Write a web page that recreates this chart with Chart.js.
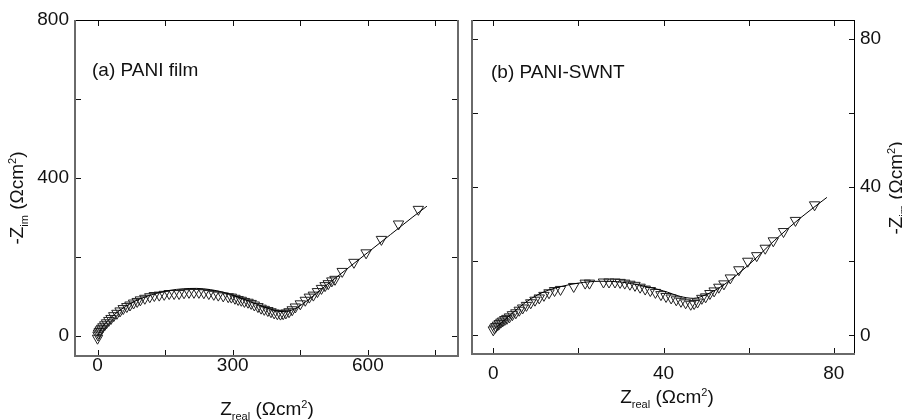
<!DOCTYPE html>
<html>
<head>
<meta charset="utf-8">
<script src="https://cdn.jsdelivr.net/npm/chart.js@4/dist/chart.umd.min.js"></script>
<style>
body { margin: 0; background: #fff; }
#wrap { position: relative; width: 902px; height: 420px; overflow: hidden; }
canvas { position: absolute; top: 0; }
#ca { left: 0; }
#cb { left: 465px; }
</style>
</head>
<body>
<div id="wrap">
<canvas id="ca" width="465" height="420"></canvas>
<canvas id="cb" width="437" height="420"></canvas>
</div>
<script>
// (a) PANI film - measured points
var aZr = [0, 1, 2, 4, 6, 9, 12, 16, 20, 25, 30, 36, 43, 50, 57, 65, 72, 80, 88, 95, 105, 116, 126, 137, 148, 159, 170, 181, 192, 203, 214, 225, 236, 247, 258, 268, 279, 290, 297, 305, 312, 319, 326, 334, 341, 348, 356, 363, 370, 378, 385, 392, 399, 406, 412, 418, 425, 432, 439, 450, 461, 470, 479, 488, 497, 505, 512, 520, 527, 543, 569, 596, 630, 668, 712];
var aZim = [-5, 3, 8, 12, 16, 20, 24, 29, 34, 40, 45, 52, 58, 64, 70, 75, 79, 84, 88, 92, 96, 100, 103, 104, 106, 108, 108, 108, 110, 111, 111, 111, 110, 108, 106, 104, 102, 100, 99, 96, 93, 91, 88, 86, 83, 79, 75, 71, 68, 65, 62, 59, 57, 56, 57, 59, 62, 67, 74, 82, 91, 99, 104, 113, 121, 128, 133, 140, 144, 164, 187, 211, 245, 284, 321];
// (a) fitted curve
var aFitZr = [0, 10, 25, 50, 75, 100, 130, 160, 190, 220, 250, 280, 310, 340, 370, 395, 415, 435, 457, 500, 550, 600, 650, 700, 731];
var aFitZim = [0, 22, 42, 66, 84, 97, 108, 116, 120, 121, 118, 111, 100, 87, 74, 65, 62, 68, 83, 122, 167, 212, 257, 302, 329];

// (b) PANI-SWNT - measured points
var bZr = [0, 0.3, 0.6, 1, 1.4, 1.8, 2.2, 2.7, 3.2, 3.8, 4.5, 5.3, 6.1, 6.9, 7.8, 8.8, 9.8, 10.8, 11.9, 13.1, 14.4, 15.8, 18.9, 21.6, 22.6, 25.9, 27.2, 28.6, 29.8, 30.9, 32.1, 33.3, 34.5, 35.7, 36.9, 38.1, 39.4, 40.6, 41.8, 43, 44.1, 45.2, 46.4, 47.2, 48, 49, 49.9, 50.9, 51.9, 53, 54.2, 55.7, 57.7, 59.8, 61.9, 63.9, 65.8, 68.2, 71, 75.5];
var bZim = [1.5, 2, 2.4, 2.8, 3.2, 3.6, 3.9, 4.3, 4.6, 5, 5.6, 6.1, 6.8, 7.4, 8.1, 8.8, 9.5, 10.1, 10.8, 11.5, 12.1, 12.4, 13.2, 14.1, 14.1, 14.4, 14.4, 14.4, 14.3, 14.1, 13.8, 13.5, 13, 12.5, 12.1, 11.6, 11, 10.5, 10.1, 9.6, 9.2, 8.8, 8.4, 8.6, 9, 10, 10.4, 11.3, 12, 13, 13.9, 15.5, 17.7, 20, 21.5, 23.5, 25.5, 28, 31, 35.2];
// (b) fitted curve
var bFitZr = [0, 3, 6, 9, 12, 16, 20, 25, 30, 35, 40, 44, 47, 50, 54, 60, 66, 72, 78.4];
var bFitZim = [1.5, 4.5, 7.5, 10, 11.8, 13.2, 14.1, 14.6, 14.4, 13.4, 12, 10.5, 10, 11, 13.5, 19, 25.5, 31.5, 37.2];

// ticks
var aXTicks = [0, 150, 300, 450, 600, 750];
var aXLabels = [0, 300, 600];
var aYTicks = [0, 200, 400, 600, 800];
var aYLabels = [0, 400, 800];
var bXTicks = [0, 20, 40, 60, 80];
var bXLabels = [0, 40, 80];
var bYTicks = [0, 20, 40, 60, 80];
var bYLabels = [0, 40, 80];

var FONT = "'Liberation Sans', Arial, Helvetica, sans-serif";

function pts(xs, ys) {
    return xs.map(function (x, i) { return { x: x, y: ys[i] }; });
}

// text with sub/superscripts, parts: [text, size, dy]
function drawRich(ctx, parts, x, y, rot) {
    ctx.save();
    ctx.translate(x, y);
    if (rot) ctx.rotate(rot);
    var w = 0;
    parts.forEach(function (p) {
        ctx.font = p[1] + 'px ' + FONT;
        w += ctx.measureText(p[0]).width;
    });
    var cx = -w / 2;
    ctx.fillStyle = '#111';
    ctx.textBaseline = 'alphabetic';
    parts.forEach(function (p) {
        ctx.font = p[1] + 'px ' + FONT;
        ctx.fillText(p[0], cx, p[2]);
        cx += ctx.measureText(p[0]).width;
    });
    ctx.restore();
}

var zimTitle = [['-Z', 19, 0], ['im', 11, 5], [' (\u03A9cm', 19, 0], ['2', 11, -7], [')', 19, 0]];
var zreTitle = [['Z', 19, 0], ['real', 11, 5], [' (\u03A9cm', 19, 0], ['2', 11, -7], [')', 19, 0]];

var framePlugin = {
    id: 'frame',
    afterDraw: function (chart, args, o) {
        var ctx = chart.ctx, a = chart.chartArea;
        var xs = chart.scales.x, ys = chart.scales.y;
        ctx.save();
        ctx.strokeStyle = '#111';
        ctx.lineWidth = 1;
        ctx.beginPath();
        xs.ticks.forEach(function (t) {
            var px = Math.round(xs.getPixelForValue(t.value)) + 0.5;
            ctx.moveTo(px, a.bottom); ctx.lineTo(px, a.bottom - 6);
            ctx.moveTo(px, a.top); ctx.lineTo(px, a.top + 6);
        });
        ys.ticks.forEach(function (t) {
            var py = Math.round(ys.getPixelForValue(t.value)) + 0.5;
            ctx.moveTo(a.left, py); ctx.lineTo(a.left + 6, py);
            ctx.moveTo(a.right, py); ctx.lineTo(a.right - 6, py);
        });
        ctx.stroke();
        // frame
        ctx.strokeStyle = '#000';
        ctx.lineWidth = 1;
        ctx.beginPath();
        ctx.moveTo(a.left, a.top + 0.5); ctx.lineTo(a.right, a.top + 0.5);
        if (o.rightDark) { ctx.moveTo(a.right - 0.5, a.top); ctx.lineTo(a.right - 0.5, a.bottom); }
        ctx.stroke();
        ctx.strokeStyle = '#6a6a6a';
        ctx.lineWidth = 2;
        ctx.beginPath();
        ctx.moveTo(a.left, a.top); ctx.lineTo(a.left, a.bottom);
        ctx.lineTo(a.right, a.bottom);
        if (!o.rightDark) { ctx.lineTo(a.right, a.top); }
        ctx.stroke();
        ctx.restore();
        // texts
        ctx.save();
        ctx.font = '19px ' + FONT;
        ctx.fillStyle = '#111';
        ctx.textBaseline = 'alphabetic';
        ctx.fillText(o.label, o.labelX, o.labelY);
        ctx.restore();
        drawRich(ctx, zreTitle, o.xtX, o.xtY, 0);
        drawRich(ctx, zimTitle, o.ytX, o.ytY, -Math.PI / 2);
    }
};

function makeChart(id, d) {
    var ctx = document.getElementById(id).getContext('2d');
    return new Chart(ctx, {
        type: 'scatter',
        data: {
            datasets: [{
                data: pts(d.fitX, d.fitY),
                showLine: true,
                borderColor: '#000',
                borderWidth: 1,
                pointRadius: 0,
                cubicInterpolationMode: 'monotone',
                order: 0
            }, {
                data: pts(d.x, d.y),
                showLine: false,
                pointStyle: 'triangle',
                rotation: 180,
                pointRadius: 6,
                borderColor: '#222',
                backgroundColor: 'rgba(0,0,0,0)',
                borderWidth: 1,
                order: 1
            }]
        },
        options: {
            responsive: false,
            animation: false,
            layout: { padding: d.padding },
            plugins: {
                legend: { display: false },
                tooltip: { enabled: false },
                frame: d.frame
            },
            scales: {
                x: {
                    type: 'linear',
                    min: d.xMin, max: d.xMax,
                    grid: { display: false, drawTicks: false },
                    border: { display: false },
                    afterBuildTicks: function (s) { s.ticks = d.xTicks.map(function (v) { return { value: v }; }); },
                    afterFit: function (s) { s.height = d.xH; },
                    ticks: {
                        autoSkip: false, maxRotation: 0,
                        padding: d.xPad,
                        color: '#111',
                        font: { family: FONT, size: 19 },
                        callback: function (v) { return d.xLabels.indexOf(v) >= 0 ? String(v) : ''; }
                    }
                },
                y: {
                    type: 'linear',
                    position: d.yPos,
                    min: d.yMin, max: d.yMax,
                    grid: { display: false, drawTicks: false },
                    border: { display: false },
                    afterBuildTicks: function (s) { s.ticks = d.yTicks.map(function (v) { return { value: v }; }); },
                    afterFit: function (s) { s.width = d.yW; },
                    ticks: {
                        autoSkip: false,
                        padding: d.yPad,
                        color: '#111',
                        font: { family: FONT, size: 19 },
                        callback: function (v) { return d.yLabels.indexOf(v) >= 0 ? String(v) : ''; }
                    }
                }
            }
        },
        plugins: [framePlugin]
    });
}

makeChart('ca', {
    x: aZr, y: aZim, fitX: aFitZr, fitY: aFitZim,
    xMin: -50, xMax: 800, yMin: -50, yMax: 800,
    xTicks: aXTicks, xLabels: aXLabels, yTicks: aYTicks, yLabels: aYLabels,
    padding: { top: 20, right: 2, left: 0, bottom: 0 },
    xH: 64, yW: 75, xPad: -2, yPad: 6, yPos: 'left',
    frame: { label: '(a) PANI film', labelX: 92, labelY: 76, xtX: 267, xtY: 415, ytX: 23, ytY: 198, rightDark: false }
});

makeChart('cb', {
    x: bZr, y: bZim, fitX: bFitZr, fitY: bFitZim,
    xMin: -5, xMax: 85, yMin: -5, yMax: 85,
    xTicks: bXTicks, xLabels: bXLabels, yTicks: bYTicks, yLabels: bYLabels,
    padding: { top: 20, right: 0, left: 2, bottom: 0 },
    xH: 66, yW: 47, xPad: 8, yPad: 5, yPos: 'right',
    frame: { label: '(b) PANI-SWNT', labelX: 26, labelY: 78, xtX: 202, xtY: 403, ytX: 437, ytY: 188, rightDark: true }
});
</script>
</body>
</html>
